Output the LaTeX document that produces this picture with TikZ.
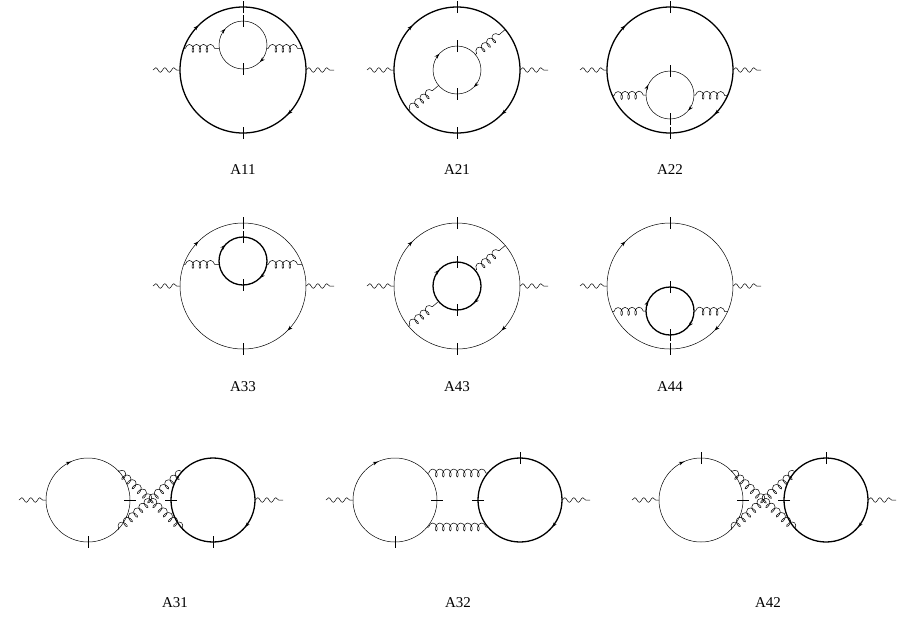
\documentclass[tikz,border=0pt]{standalone}
\usepackage{fontspec}
\setmainfont{Liberation Serif}
\usetikzlibrary{calc,arrows.meta,decorations.pathmorphing}
\tikzset{
  thinl/.style={line width=0.5pt},
  thickl/.style={line width=1.3pt},
  gluon/.style={line width=0.5pt,decorate,decoration={coil,amplitude=4pt,segment length=7pt,aspect=0.6,pre length=1.5pt,post length=1.5pt}},
  photon/.style={line width=0.5pt,decorate,decoration={snake,amplitude=2.3pt,segment length=9pt}},
  lab/.style={font=\fontsize{15}{18}\selectfont}
}
\newcommand\tk[3]{\draw[thinl] ($(#1)+(#3:#2-6)$) -- ($(#1)+(#3:#2+6)$);}
\newcommand\arw[3]{\draw[thinl,-{Stealth[length=5pt,width=3.5pt]}] ($(#1)+(#3-4:#2)$) arc[start angle=#3-4, end angle=#3, radius=#2];}
\newcommand\glu[6]{\draw[gluon] ($(#1)+(#3:#2)$) -- ($(#4)+(#6:#5)$);}
\newcommand\phL[2]{\draw[photon] ($(#1)+(-#2-27,0)$) -- ($(#1)+(-#2,0)$);}
\newcommand\phR[2]{\draw[photon] ($(#1)+(#2,0)$) -- ($(#1)+(#2+28,0)$);}
\begin{document}
\begin{tikzpicture}[x=1pt,y=-1pt]
\useasboundingbox (0,0) rectangle (913,630);
% ---------- Row 1 ----------
\coordinate (b11) at (243,70); \coordinate (i11) at (243,45);
\coordinate (b21) at (457,70); \coordinate (i21) at (457,70);
\coordinate (b22) at (670,70); \coordinate (i22) at (670,95);
% ---------- Row 2 ----------
\coordinate (b33) at (243,286); \coordinate (i33) at (243,261);
\coordinate (b43) at (457,286); \coordinate (i43) at (457,286);
\coordinate (b44) at (670,286); \coordinate (i44) at (670,311);
% outer thick, inner thin (row 1); outer thin, inner thick (row 2)
\foreach \b/\i in {b11/i11,b21/i21,b22/i22}{
  \draw[thickl] (\b) circle[radius=63];
  \draw[thinl] (\i) circle[radius=24];
  \phL{\b}{63} \phR{\b}{63}
  \tk{\b}{63}{-90} \tk{\b}{63}{90}
  \tk{\i}{24}{-90} \tk{\i}{24}{90}
  \arw{\b}{63}{225} \arw{\b}{63}{45}
}
\foreach \b/\i in {b33/i33,b43/i43,b44/i44}{
  \draw[thinl] (\b) circle[radius=63];
  \draw[thickl] (\i) circle[radius=24];
  \phL{\b}{63} \phR{\b}{63}
  \tk{\b}{63}{-90} \tk{\b}{63}{90}
  \tk{\i}{24}{-90} \tk{\i}{24}{90}
  \arw{\b}{63}{225} \arw{\b}{63}{45}
}
\foreach \i in {i11,i21,i33,i43}{\arw{\i}{24}{222} \arw{\i}{24}{45}}
\foreach \i in {i22,i44}{\arw{\i}{24}{205} \arw{\i}{24}{40}}
% gluons
\foreach \b/\i in {b11/i11,b33/i33}{
  \glu{\b}{63}{200}{\i}{24}{172}
  \glu{\i}{24}{8}{\b}{63}{-20}
}
\foreach \b/\i in {b21/i21,b43/i43}{
  \glu{\b}{63}{140}{\i}{24}{140}
  \glu{\i}{24}{-40}{\b}{63}{-40}
}
\foreach \b/\i in {b22/i22,b44/i44}{
  \glu{\b}{63}{156}{\i}{24}{180}
  \glu{\i}{24}{0}{\b}{63}{24}
}
% labels
\node[lab] (l11) at (243,170) {A11};
\node[lab] (l21) at (457,170) {A21};
\node[lab] (l22) at (670,170) {A22};
\node[lab] (l33) at (243,387) {A33};
\node[lab] (l43) at (457,387) {A43};
\node[lab] (l44) at (670,387) {A44};
% ---------- Row 3 ----------
\coordinate (L31) at (88,500);  \coordinate (R31) at (213,500);
\coordinate (L32) at (395,500); \coordinate (R32) at (520,500);
\coordinate (L42) at (701,500); \coordinate (R42) at (826,500);
\foreach \l/\r in {L31/R31,L32/R32,L42/R42}{
  \draw[thinl] (\l) circle[radius=42];
  \draw[thickl] (\r) circle[radius=42];
  \phL{\l}{42} \phR{\r}{42}
  \arw{\l}{42}{246} \arw{\r}{42}{40}
  \tk{\l}{42}{0} \tk{\r}{42}{180}
}
\tk{L31}{42}{90} \tk{R31}{42}{90}
\tk{L32}{42}{90} \tk{R32}{42}{-90}
\tk{L42}{42}{-90} \tk{R42}{42}{-90}
\glu{L31}{42}{-45}{R31}{42}{135}
\glu{L31}{42}{45}{R31}{42}{225}
\glu{L32}{42}{-40}{R32}{42}{220}
\glu{L32}{42}{40}{R32}{42}{140}
\glu{L42}{42}{-45}{R42}{42}{135}
\glu{L42}{42}{45}{R42}{42}{225}
\node[lab] (l31) at (175,603) {A31};
\node[lab] (l32) at (458,603) {A32};
\node[lab] (l42) at (768,603) {A42};
\end{tikzpicture}
\end{document}
